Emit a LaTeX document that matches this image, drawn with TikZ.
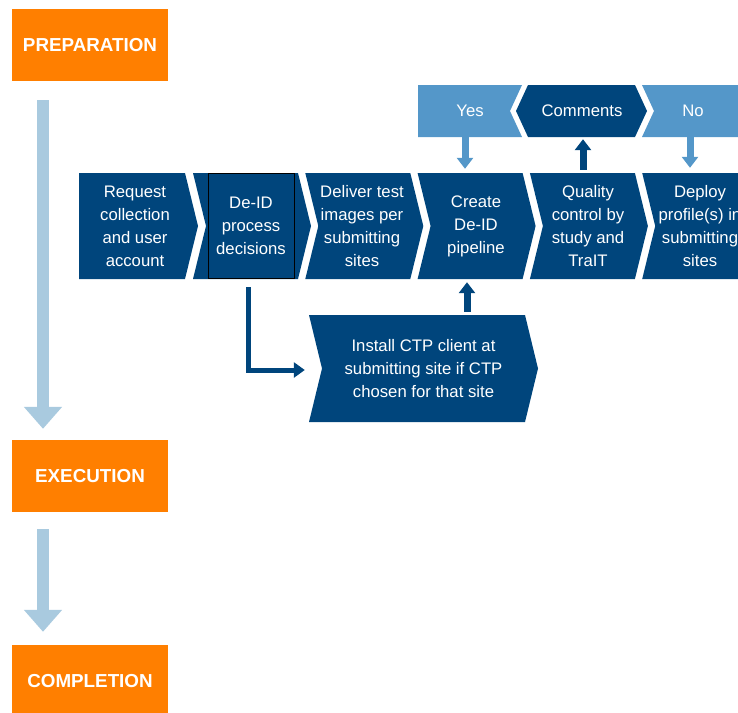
\documentclass[tikz,border=0pt]{standalone}
\usepackage{fontspec}
\setmainfont{Liberation Sans}
\usetikzlibrary{arrows.meta}
\definecolor{phase}{HTML}{FF7F00}
\definecolor{navy}{HTML}{00457C}
\definecolor{midblue}{HTML}{5497C9}
\definecolor{paleblue}{HTML}{A9CADF}
\begin{document}
\begin{tikzpicture}[x=1pt,y=-1pt,
  phasebox/.style={fill=phase, text=white, minimum width=156pt, minimum height=72pt,
    inner sep=0pt, font=\fontsize{18.8}{22}\selectfont\bfseries},
  steptext/.style={text=white, align=center, inner sep=0pt, minimum height=106pt,
    font=\fontsize{16.7}{23}\selectfont},
  tagtext/.style={text=white, align=center, inner sep=0pt, minimum height=52pt,
    font=\fontsize{16.7}{20}\selectfont},
  bigarrow/.style={draw=paleblue, line width=12pt, -{Triangle[width=37pt,length=22pt]}},
  tagarrow/.style={draw=#1, line width=7pt, -{Triangle[width=16pt,length=11pt]}},
  elbowarrow/.style={draw=navy, line width=5pt, line join=miter, -{Triangle[width=15pt,length=11pt]}}
]
\useasboundingbox (0,0) rectangle (738,712);
\clip (0,0) rectangle (738,712);

% phase blocks
\node[phasebox] (prep)  at (90,45)  {PREPARATION};
\node[phasebox] (exec)  at (90,476) {EXECUTION};
\node[phasebox] (compl) at (90,681) {COMPLETION};

\draw[bigarrow, shorten <=19pt, shorten >=11pt] ([xshift=-47pt]prep.south) -- ([xshift=-47pt]exec.north);
\draw[bigarrow, shorten <=17pt, shorten >=13pt] ([xshift=-47pt]exec.south) -- ([xshift=-47pt]compl.north);

% step chevrons
\fill[navy] (79,173) -- (185,173) -- (198,226) -- (185,279) -- (79,279) -- cycle;
\foreach \L in {193,305.3,417.6,529.9,642.2}{
  \fill[navy] (\L,173) -- (\L+105,173) -- (\L+118,226) -- (\L+105,279) -- (\L,279) -- (\L+13,226) -- cycle;
}
\draw[black, line width=1pt] (208,173.5) rectangle (294,278.5);

\node[steptext] (req)     at (135,226)   {Request\\collection\\and user\\account};
\node[steptext] (deid)    at (251,226)   {De-ID\\process\\decisions};
\node[steptext] (deliver) at (362,226)   {Deliver test\\images per\\submitting\\sites};
\node[steptext] (create)  at (476,226)   {Create\\De-ID\\pipeline};
\node[steptext] (qc)      at (588,226)   {Quality\\control by\\study and\\TraIT};
\node[steptext] (deploy)  at (700,226)   {Deploy\\profile(s) in\\submitting\\sites};

% decision tags
\fill[midblue] (418,85) -- (522,85) -- (510,111) -- (522,137) -- (418,137) -- cycle;
\fill[navy] (528,85) -- (635,85) -- (647,111) -- (635,137) -- (528,137) -- (516,111) -- cycle;
\fill[midblue] (642,85) -- (745,85) -- (745,137) -- (642,137) -- (654,111) -- cycle;

\node[tagtext] (yes)      at (470,111) {Yes};
\node[tagtext] (comments) at (582,111) {Comments};
\node[tagtext] (no)       at (693,111) {No};

% client installation step
\fill[navy] (309,315) -- (525,315) -- (538,368.5) -- (525,422) -- (309,422) -- (322,368.5) -- cycle;
\node[steptext, minimum height=107pt, minimum width=229pt] (ctp) at (423.5,368.5)
  {Install CTP client at\\submitting site if CTP\\chosen for that site};

% connectors
\draw[tagarrow=midblue, shorten >=4pt] ([xshift=-5pt]yes.south) -- ([xshift=-11pt]create.north);
\draw[tagarrow=navy, shorten <=3pt, shorten >=2pt] ([xshift=-5pt]qc.north) -- ([xshift=1pt]comments.south);
\draw[tagarrow=midblue, shorten >=5pt] ([xshift=-3pt]no.south) -- ([xshift=-10pt]deploy.north);
\draw[tagarrow=navy, shorten <=3pt, shorten >=3pt] ([xshift=43.5pt]ctp.north) -- ([xshift=-9pt]create.south);
\draw[elbowarrow, shorten <=8pt, shorten >=4pt] ([xshift=-3pt]deid.south) |- ([yshift=-1.5pt]ctp.west);
\end{tikzpicture}
\end{document}
